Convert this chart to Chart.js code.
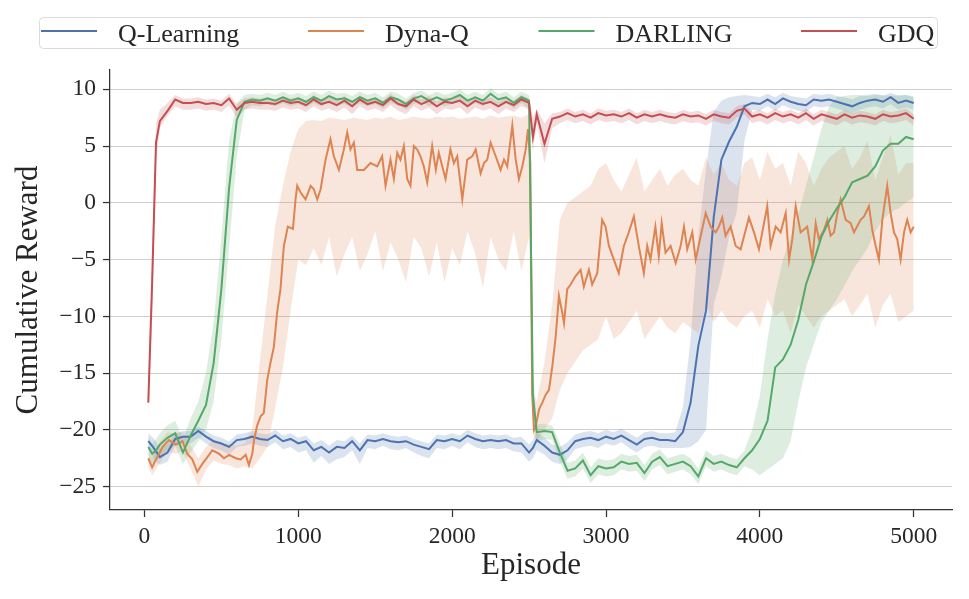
<!DOCTYPE html>
<html>
<head>
<meta charset="utf-8">
<title>Cumulative Reward</title>
<script src="https://cdn.jsdelivr.net/npm/chart.js@4.4.0/dist/chart.umd.min.js"></script>
<style>
  html, body { margin: 0; padding: 0; background: #fff; }
  #wrap { width: 969px; height: 599px; position: relative; }
</style>
</head>
<body>
<div id="wrap"><canvas id="rewardChart"></canvas></div>
<script>
// --- DATA ---
const episodes = [
  25, 50, 75, 100, 150, 200, 250, 300, 350, 400, 450,
  500, 550, 600, 650, 700, 750, 800, 850, 900, 950,
  1000, 1050, 1100, 1150, 1200, 1250, 1300, 1350, 1400, 1450,
  1500, 1550, 1600, 1650, 1700, 1750, 1800, 1850, 1900, 1950,
  2000, 2050, 2100, 2150, 2200, 2250, 2300, 2350, 2400, 2450,
  2500, 2525, 2550, 2600, 2650, 2700, 2750, 2800, 2850, 2900, 2950,
  3000, 3050, 3100, 3150, 3200, 3250, 3300, 3350, 3400, 3450,
  3500, 3550, 3600, 3650, 3700, 3750, 3800, 3850, 3900, 3950,
  4000, 4050, 4100, 4150, 4200, 4250, 4300, 4350, 4400, 4450,
  4500, 4550, 4600, 4650, 4700, 4750, 4800, 4850, 4900, 4950, 5000
];

// Q-Learning
const qMean = [
  -21.0, -21.4, -21.9, -22.4, -22.0, -20.8, -20.6, -20.6, -20.1, -20.6, -21.0,
  -21.2, -21.5, -20.9, -20.8, -20.6, -20.8, -20.9, -20.5, -21.0, -20.8,
  -21.2, -21.0, -21.8, -21.5, -22.0, -21.5, -21.6, -21.0, -21.8, -20.9,
  -21.0, -20.8, -21.0, -21.1, -21.0, -21.3, -21.5, -21.7, -20.9, -21.0,
  -20.8, -21.0, -20.5, -20.8, -21.0, -20.9, -21.0, -20.9, -21.2, -21.2,
  -22.0, -21.6, -20.9, -21.4, -22.0, -22.2, -21.8, -21.0, -20.8, -20.7, -20.9,
  -20.6, -20.8, -20.5, -20.9, -21.3, -20.8, -20.7, -20.9, -20.9, -21.0,
  -20.2, -17.6, -12.6, -9.5, -1.3, 3.8, 5.4, 6.7, 8.5, 8.8,
  8.7, 9.1, 8.7, 9.2, 8.9, 8.7, 8.6, 9.1, 9.0, 9.1,
  8.9, 8.7, 8.5, 8.8, 9.0, 9.1, 8.9, 9.3, 8.8, 9.0, 8.8
];
const qHigh = [
  -20.3, -20.6, -21.0, -21.6, -21.3, -20.3, -20.1, -20.1, -19.7, -20.1, -20.5,
  -20.7, -21.0, -20.4, -20.3, -20.1, -20.3, -20.4, -20.0, -20.5, -20.3,
  -20.7, -20.5, -21.2, -20.9, -21.4, -20.9, -21.0, -20.5, -21.2, -20.4,
  -20.5, -20.3, -20.5, -20.6, -20.5, -20.8, -21.0, -21.2, -20.4, -20.5,
  -20.3, -20.5, -20.0, -20.3, -20.5, -20.4, -20.5, -20.4, -20.7, -20.6,
  -21.3, -20.9, -20.2, -20.7, -21.3, -21.5, -21.1, -20.4, -20.2, -20.1, -20.3,
  -20.0, -20.2, -19.9, -20.3, -20.7, -20.2, -20.1, -20.3, -20.3, -20.2,
  -18.0, -12.0, -3.0, 3.0, 8.0, 9.0, 9.3, 9.4, 9.5, 9.4,
  9.3, 9.6, 9.3, 9.7, 9.4, 9.3, 9.2, 9.6, 9.5, 9.6,
  9.4, 9.3, 9.1, 9.4, 9.5, 9.6, 9.4, 9.7, 9.4, 9.5, 9.3
];
const qLow = [
  -21.8, -22.3, -22.8, -23.1, -22.8, -21.4, -21.2, -21.2, -20.7, -21.2, -21.6,
  -21.8, -22.2, -21.5, -21.4, -21.2, -21.4, -21.5, -21.1, -21.7, -21.5,
  -22.0, -21.8, -22.9, -22.3, -23.0, -22.6, -22.4, -21.8, -23.0, -21.6,
  -21.7, -21.4, -21.7, -21.8, -21.6, -22.0, -22.3, -22.5, -21.6, -21.7,
  -21.4, -21.7, -21.1, -21.5, -21.7, -21.6, -21.7, -21.6, -21.9, -22.0,
  -22.8, -22.5, -21.8, -22.2, -22.8, -23.0, -22.6, -21.7, -21.5, -21.4, -21.6,
  -21.2, -21.4, -21.1, -21.6, -22.0, -21.5, -21.4, -21.6, -21.6, -21.6,
  -21.6, -21.5, -21.0, -20.0, -9.0, -6.5, -3.0, -0.8, 5.5, 8.2,
  8.1, 8.5, 8.1, 8.6, 8.3, 8.1, 8.0, 8.5, 8.4, 8.5,
  8.3, 8.1, 7.9, 8.2, 8.4, 8.5, 8.3, 8.7, 8.2, 8.4, 8.2
];

// Dyna-Q: its mean line is read at its own, finer episode positions
const dynaEpisodes = [
  25, 50, 75, 100, 118, 160, 204, 247, 278, 311, 343, 376, 409, 441, 484, 517,
  550, 593, 625, 658, 679, 701, 712, 733, 755, 776, 798, 819, 841, 862, 884, 906,
  932, 965, 982, 993, 1015, 1047, 1080, 1101, 1123, 1145, 1177, 1209, 1231, 1264,
  1296, 1318, 1339, 1361, 1383, 1426, 1469, 1513, 1545, 1567, 1599, 1621, 1643,
  1664, 1686, 1708, 1729, 1751, 1773, 1794, 1816, 1838, 1870, 1894, 1913, 1957,
  1989, 2011, 2033, 2066, 2098, 2131, 2153, 2185, 2207, 2228, 2250, 2283, 2315,
  2337, 2358, 2391, 2413, 2434, 2456, 2478, 2493, 2508, 2520, 2532, 2543, 2565,
  2586, 2608, 2629, 2651, 2673, 2694, 2716, 2727, 2748, 2770, 2800, 2835, 2856,
  2889, 2910, 2943, 2975, 2997, 3019, 3051, 3083, 3116, 3148, 3181, 3213, 3246,
  3268, 3289, 3321, 3343, 3362, 3387, 3420, 3453, 3485, 3507, 3528, 3561, 3583,
  3616, 3648, 3680, 3713, 3734, 3756, 3777, 3810, 3843, 3875, 3908, 3929, 3962,
  3994, 4016, 4048, 4070, 4103, 4135, 4168, 4190, 4211, 4233, 4265, 4308, 4341,
  4363, 4384, 4417, 4439, 4460, 4482, 4504, 4525, 4558, 4590, 4612, 4655, 4677,
  4709, 4731, 4753, 4774, 4796, 4828, 4850, 4872, 4893, 4915, 4937, 4958, 4980, 5000
];
const dynaMean = [
  -22.5, -23.3, -22.6, -22.0, -21.5, -20.9, -21.3, -21.0, -22.1, -22.6, -23.7, -23.0, -22.4, -21.8, -22.1, -22.5,
  -22.2, -22.5, -22.6, -22.2, -23.1, -22.1, -20.9, -19.6, -18.8, -18.5, -15.6, -14.1, -12.7, -9.7, -7.6, -3.8,
  -2.1, -2.3, 0.3, 1.5, 0.9, 0.3, 1.5, 1.2, 0.3, 1.2, 3.8, 5.6, 4.1, 2.9,
  4.7, 6.2, 4.7, 5.3, 2.9, 2.9, 3.5, 3.2, 4.1, 1.5, 3.8, 2.1, 4.4,
  3.8, 5.0, 2.1, 1.5, 5.0, 4.7, 4.1, 3.2, 1.8, 5.0, 2.9, 4.4, 2.1,
  4.7, 3.5, 4.1, 0.3, 3.8, 4.1, 4.7, 2.6, 3.5, 3.8, 5.3, 4.1, 2.9,
  3.8, 3.2, 6.8, 3.8, 2.1, 3.2, 4.7, 6.5, 3.5, -16.8, -20.0, -19.7, -18.2,
  -17.6, -16.9, -16.5, -14.4, -11.8, -8.2, -9.7, -10.6, -7.6, -7.2, -6.5, -5.9, -7.4,
  -5.9, -7.2, -6.2, -1.5, -2.1, -3.8, -5.0, -6.2, -3.8, -2.6, -1.2, -3.8, -6.2,
  -3.8, -5.0, -2.1, -4.7, -1.8, -4.4, -3.8, -5.3, -3.8, -2.1, -4.1, -2.6, -5.0,
  -2.9, -0.9, -2.1, -2.6, -2.1, -1.3, -2.9, -2.1, -3.8, -4.1, -2.4, -1.3, -2.6,
  -4.1, -2.6, -0.3, -3.8, -2.1, -2.6, -0.9, -5.0, -3.2, -0.3, -2.6, -2.1, -5.0,
  -1.8, -3.2, -2.4, -1.5, -2.9, -2.6, -0.9, 0.3, -1.5, -1.8, -2.6, -1.5, -1.2,
  -0.3, -2.4, -3.8, -5.0, -1.5, 1.5, -0.9, -2.6, -3.2, -5.0, -2.6, -1.5, -2.6, -2.1
];
const dynaHigh = [
  -21.8, -22.5, -21.8, -21.0, -20.2, -20.3, -20.2, -21.4, -22.5, -21.5, -20.9,
  -21.2, -21.2, -21.4, -21.2, -20.0, -14.0, -8.0, -2.0, 1.5, 4.5,
  6.5, 7.2, 7.3, 7.2, 7.5, 7.4, 7.3, 7.5, 7.4, 7.3,
  7.5, 7.4, 7.6, 7.3, 7.4, 7.6, 7.5, 7.4, 7.6, 7.5,
  7.6, 7.4, 7.5, 7.6, 7.4, 7.7, 7.5, 7.6, 7.7, 7.5,
  7.8, -16.5, -17.5, -14.0, -9.0, -1.5, 0.0, 0.5, 1.0, 1.5, 3.0,
  3.5, 2.0, 1.0, 2.5, 4.0, 1.0, 2.0, 3.0, 1.5, 2.5,
  3.0, 2.0, 1.5, 4.0, 2.5, 3.5, 2.0, 1.5, 3.5, 4.0,
  2.0, 4.5, 3.0, 3.5, 1.5, 4.5, 3.5, 1.5, 3.0, 4.0,
  4.5, 5.0, 3.0, 4.0, 5.5, 2.0, 4.0, 6.0, 2.5, 3.5, 3.5
];
const dynaLow = [
  -23.3, -24.0, -23.5, -22.9, -21.9, -22.1, -21.9, -23.4, -25.0, -23.5, -22.7,
  -23.0, -23.1, -23.4, -23.2, -23.4, -22.5, -21.5, -18.0, -14.5, -9.5,
  -5.0, -5.5, -4.0, -5.5, -3.0, -6.5, -4.5, -3.0, -6.0, -4.5,
  -2.5, -6.0, -3.5, -5.0, -7.0, -3.0, -4.0, -6.5, -3.5, -7.0,
  -4.0, -5.5, -2.5, -4.5, -7.5, -3.0, -5.0, -6.0, -2.5, -6.0,
  -3.0, -20.5, -21.0, -20.0, -19.0, -16.5, -15.0, -14.0, -13.0, -12.5, -12.0,
  -10.0, -12.0, -11.5, -10.5, -9.5, -12.0, -11.0, -10.0, -11.0, -11.5,
  -10.5, -11.0, -11.5, -9.0, -10.5, -9.5, -10.5, -11.0, -10.0, -9.5,
  -11.0, -8.5, -10.0, -9.5, -11.5, -9.0, -10.0, -11.0, -10.0, -9.5,
  -9.0, -8.5, -10.0, -9.0, -8.0, -11.0, -9.0, -8.0, -10.5, -10.0, -9.5
];

// DARLING
const darlingMean = [
  -21.5, -22.1, -21.8, -21.3, -20.7, -20.3, -22.0, -20.5, -19.2, -17.8, -14.1,
  -7.6, 1.3, 7.3, 8.9, 9.1, 9.0, 9.2, 9.0, 9.3, 9.0,
  9.2, 8.9, 9.3, 9.0, 9.4, 9.1, 9.2, 8.9, 9.3, 9.0,
  9.2, 8.8, 9.3, 9.1, 8.7, 9.2, 9.4, 9.0, 9.3, 9.0,
  9.2, 9.5, 9.0, 9.3, 9.0, 9.6, 9.1, 9.3, 8.8, 9.3,
  9.0, -17.0, -20.2, -20.1, -20.2, -22.0, -23.6, -23.4, -22.7, -24.0, -23.2,
  -23.4, -23.3, -22.8, -23.0, -22.9, -23.8, -22.8, -22.4, -23.2, -23.0,
  -22.8, -23.2, -24.1, -22.5, -23.0, -22.8, -23.1, -23.3, -22.5, -21.8,
  -20.8, -19.2, -14.5, -13.8, -12.5, -10.3, -7.2, -5.2, -3.0, -1.6,
  -0.5, 0.5, 1.8, 2.1, 2.4, 3.2, 4.6, 5.2, 5.2, 5.8, 5.6
];
const darlingHigh = [
  -20.6, -21.2, -20.8, -20.3, -19.6, -19.2, -20.8, -19.0, -17.5, -15.0, -10.5,
  -3.0, 5.5, 8.8, 9.5, 9.6, 9.5, 9.7, 9.5, 9.8, 9.5,
  9.7, 9.4, 9.8, 9.5, 9.9, 9.6, 9.7, 9.4, 9.8, 9.5,
  9.7, 9.3, 9.8, 9.6, 9.2, 9.7, 9.9, 9.5, 9.8, 9.5,
  9.7, 10.0, 9.5, 9.8, 9.5, 10.1, 9.6, 9.8, 9.3, 9.8,
  9.5, -15.0, -19.5, -19.5, -19.6, -21.2, -22.9, -22.7, -22.0, -23.3, -22.5,
  -22.7, -22.6, -22.1, -22.3, -22.2, -23.1, -22.1, -21.7, -22.5, -22.3,
  -22.1, -22.5, -23.4, -21.8, -22.3, -22.1, -22.4, -22.6, -21.8, -20.0,
  -17.0, -12.0, -8.0, -5.0, -3.0, -1.0, 1.5, 4.0, 6.5, 8.5,
  9.3, 9.4, 9.5, 9.5, 9.4, 9.5, 9.5, 9.4, 9.5, 9.5, 9.4
];
const darlingLow = [
  -22.3, -23.0, -22.8, -22.3, -21.8, -21.4, -23.0, -22.0, -21.0, -20.0, -17.5,
  -12.0, -4.0, 4.0, 8.2, 8.6, 8.5, 8.7, 8.5, 8.8, 8.5,
  8.7, 8.4, 8.8, 8.5, 8.9, 8.6, 8.7, 8.4, 8.8, 8.5,
  8.7, 8.3, 8.8, 8.6, 8.2, 8.7, 8.9, 8.5, 8.8, 8.5,
  8.7, 9.0, 8.5, 8.8, 8.5, 9.1, 8.6, 8.8, 8.3, 8.8,
  8.3, -19.5, -21.0, -20.8, -20.9, -22.8, -24.3, -24.1, -23.4, -24.7, -23.9,
  -24.1, -24.0, -23.5, -23.7, -23.6, -24.5, -23.5, -23.1, -23.9, -23.7,
  -23.5, -23.9, -24.8, -23.2, -23.7, -23.5, -23.8, -24.0, -23.2, -23.5,
  -24.0, -23.5, -23.0, -22.5, -21.0, -17.5, -14.5, -12.5, -10.5, -9.5,
  -8.5, -7.3, -6.0, -5.0, -4.0, -2.5, -1.5, -0.8, -0.5, 0.0, 0.5
];

// GDQ
const gdqMean = [
  -17.6, -7.0, 5.3, 7.2, 8.1, 9.1, 8.8, 8.8, 8.9, 8.7, 8.8,
  8.6, 9.2, 8.2, 8.8, 8.9, 8.8, 8.8, 8.7, 9.0, 8.8,
  8.9, 8.6, 9.1, 8.7, 8.9, 8.6, 9.0, 8.5, 9.1, 8.7,
  8.9, 8.6, 9.2, 8.7, 8.5, 9.1, 8.7, 9.0, 8.5, 8.9,
  8.8, 9.0, 8.5, 9.0, 8.7, 8.9, 8.5, 8.9, 8.6, 9.1,
  8.8, 5.8, 7.8, 5.2, 7.4, 7.6, 7.9, 7.6, 7.8, 7.5, 7.9,
  7.7, 7.8, 7.6, 7.9, 7.5, 7.8, 7.6, 7.8, 7.6, 7.5,
  7.8, 7.6, 7.7, 7.4, 7.8, 7.6, 7.5, 8.1, 8.3, 7.6,
  7.8, 7.5, 7.9, 7.6, 7.8, 7.5, 7.9, 7.4, 7.8, 7.6,
  7.4, 7.8, 7.5, 7.7, 7.6, 7.4, 7.8, 7.6, 7.7, 7.9, 7.4
];
const gdqHigh = [
  -15.5, -4.0, 7.0, 8.2, 8.8, 9.5, 9.2, 9.2, 9.3, 9.1, 9.2,
  9.0, 9.6, 8.7, 9.2, 9.3, 9.2, 9.2, 9.1, 9.4, 9.2,
  9.3, 9.0, 9.5, 9.1, 9.3, 9.0, 9.4, 8.9, 9.5, 9.1,
  9.3, 9.0, 9.6, 9.1, 8.9, 9.5, 9.1, 9.4, 8.9, 9.3,
  9.2, 9.4, 8.9, 9.4, 9.1, 9.3, 8.9, 9.3, 9.0, 9.5,
  9.2, 7.5, 8.3, 7.0, 7.9, 8.0, 8.3, 8.0, 8.2, 7.9, 8.3,
  8.1, 8.2, 8.0, 8.3, 7.9, 8.2, 8.0, 8.2, 8.0, 7.9,
  8.2, 8.0, 8.1, 7.8, 8.2, 8.0, 7.9, 8.5, 8.7, 8.0,
  8.2, 7.9, 8.3, 8.0, 8.2, 7.9, 8.3, 7.8, 8.2, 8.0,
  7.8, 8.2, 7.9, 8.1, 8.0, 7.8, 8.2, 8.0, 8.1, 8.3, 7.8
];
const gdqLow = [
  -19.0, -10.0, 3.5, 6.6, 7.7, 8.5, 8.2, 8.2, 8.3, 8.1, 8.2,
  8.0, 8.6, 7.5, 8.2, 8.3, 8.2, 8.2, 8.1, 8.4, 8.2,
  8.3, 8.0, 8.5, 8.1, 8.3, 8.0, 8.4, 7.8, 8.5, 8.1,
  8.3, 8.0, 8.6, 8.1, 7.8, 8.5, 8.1, 8.4, 7.8, 8.3,
  8.2, 8.4, 7.8, 8.4, 8.1, 8.3, 7.8, 8.3, 8.0, 8.5,
  8.2, 4.5, 7.0, 3.5, 6.6, 7.0, 7.3, 7.0, 7.2, 6.9, 7.3,
  7.1, 7.2, 7.0, 7.3, 6.9, 7.2, 7.0, 7.2, 7.0, 6.9,
  7.2, 7.0, 7.1, 6.8, 7.2, 7.0, 6.9, 7.5, 7.8, 7.0,
  7.2, 6.9, 7.3, 7.0, 7.2, 6.9, 7.3, 6.8, 7.2, 7.0,
  6.8, 7.2, 6.9, 7.1, 7.0, 6.8, 7.2, 7.0, 7.1, 7.3, 6.8
];

const xTicks = [0, 1000, 2000, 3000, 4000, 5000];
const yTicks = [-25, -20, -15, -10, -5, 0, 5, 10];

// --- SERIES SETUP ---
const series = [
  { label: 'Q-Learning', color: '#4C72B0', xs: episodes, mean: qMean, low: qLow, high: qHigh },
  { label: 'Dyna-Q', color: '#DD8452', xs: dynaEpisodes, mean: dynaMean, low: dynaLow, high: dynaHigh },
  { label: 'DARLING', color: '#55A868', xs: episodes, mean: darlingMean, low: darlingLow, high: darlingHigh },
  { label: 'GDQ', color: '#C44E52', xs: episodes, mean: gdqMean, low: gdqLow, high: gdqHigh }
];

const FONT = '"Liberation Serif", "DejaVu Serif", serif';
const TEXT = '#262626';

function toPoints(xs, values) {
  return xs.map((e, i) => ({ x: e, y: values[i] }));
}

function alpha(hex, a) {
  const n = parseInt(hex.slice(1), 16);
  return `rgba(${(n >> 16) & 255}, ${(n >> 8) & 255}, ${n & 255}, ${a})`;
}

function minusSign(v) {
  return v < 0 ? '\u2212' + Math.abs(v) : String(v);
}

const datasets = [];
// shaded bands first (drawn underneath)
series.forEach((s, k) => {
  datasets.push({
    label: s.label + ' low', data: toPoints(episodes, s.low),
    borderColor: 'transparent', borderWidth: 0, pointRadius: 0,
    fill: false, order: 20 - k
  });
  datasets.push({
    label: s.label + ' high', data: toPoints(episodes, s.high),
    borderColor: 'transparent', borderWidth: 0, pointRadius: 0,
    backgroundColor: alpha(s.color, 0.2), fill: '-1', order: 20 - k
  });
});
// mean lines on top, GDQ last
series.forEach((s, k) => {
  datasets.push({
    label: s.label, data: toPoints(s.xs, s.mean),
    borderColor: s.color, borderWidth: 2, pointRadius: 0,
    fill: false, order: 4 - k, tension: 0
  });
});

// legend row above the plot, spread evenly like the original
const topLegend = {
  id: 'topLegend',
  afterDraw(chart) {
    const ctx = chart.ctx;
    ctx.save();
    ctx.beginPath();
    ctx.roundRect(39.5, 17.5, 898, 31, 4);
    ctx.fillStyle = 'rgba(255,255,255,0.8)';
    ctx.fill();
    ctx.strokeStyle = 'rgba(204,204,204,0.7)';
    ctx.lineWidth = 1;
    ctx.stroke();
    const slots = [41, 308, 538.5, 801];
    ctx.font = '26px ' + FONT;
    ctx.textBaseline = 'alphabetic';
    ctx.fillStyle = TEXT;
    series.forEach((s, i) => {
      const x = slots[i];
      ctx.beginPath();
      ctx.moveTo(x, 31);
      ctx.lineTo(x + 56, 31);
      ctx.strokeStyle = s.color;
      ctx.lineWidth = 2;
      ctx.stroke();
      ctx.fillText(s.label, x + 77, 42);
    });
    ctx.restore();
  }
};

Chart.defaults.font.family = FONT;
Chart.defaults.color = TEXT;

const ctx = document.getElementById('rewardChart').getContext('2d');
new Chart(ctx, {
  type: 'line',
  data: { datasets: datasets },
  options: {
    responsive: true,
    maintainAspectRatio: false,
    animation: false,
    events: [],
    layout: { padding: { left: 0, right: 17, top: 70, bottom: 0 } },
    plugins: {
      legend: { display: false },
      tooltip: { enabled: false },
      filler: { propagate: false }
    },
    scales: {
      x: {
        type: 'linear',
        min: -224,
        max: 5249,
        afterBuildTicks: s => { s.ticks = xTicks.map(v => ({ value: v })); },
        afterFit: s => { s.height = 89; },
        ticks: {
          callback: v => String(v),
          font: { size: 23.5 },
          color: TEXT,
          padding: 6,
          maxRotation: 0
        },
        grid: {
          display: true, drawOnChartArea: false, drawTicks: true,
          tickLength: 7, tickColor: '#333', tickWidth: 1.25
        },
        border: { display: true, color: '#333', width: 1.25 },
        title: {
          display: true, text: 'Episode', color: TEXT,
          font: { size: 31 }, padding: { top: 0, bottom: 15 }
        }
      },
      y: {
        type: 'linear',
        min: -27.06,
        max: 11.7,
        afterBuildTicks: s => { s.ticks = yTicks.map(v => ({ value: v })); },
        afterFit: s => { s.width = 110; },
        ticks: {
          callback: v => minusSign(v),
          font: { size: 23.5 },
          color: TEXT,
          padding: 7
        },
        grid: {
          color: '#cfcfcf', lineWidth: 1.1,
          drawTicks: true, tickLength: 7, tickColor: '#333', tickWidth: 1.25
        },
        border: { display: true, color: '#333', width: 1.25 },
        title: {
          display: true, text: 'Cumulative Reward', color: TEXT,
          font: { size: 31 }, padding: { top: 10, bottom: 0 }
        }
      }
    }
  },
  plugins: [topLegend]
});
</script>
</body>
</html>
